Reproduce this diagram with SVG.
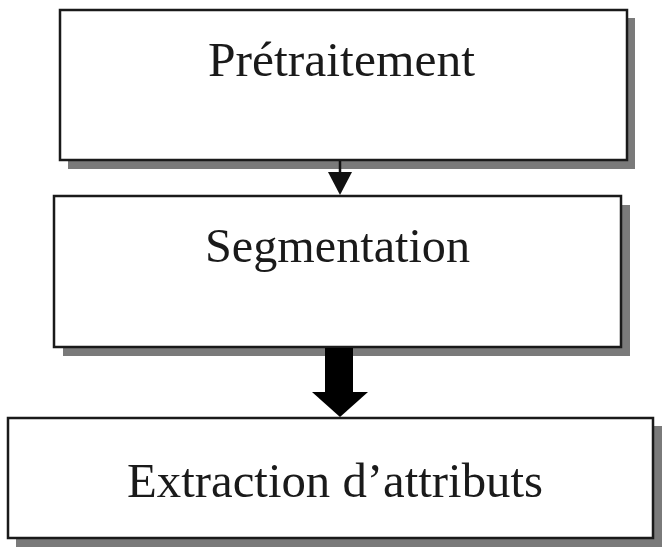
<svg xmlns="http://www.w3.org/2000/svg" width="662" height="547" viewBox="0 0 662 547">
<style>
.shadow{fill:#7a7a7a;}
.box{fill:#fff;stroke:#1a1a1a;stroke-width:2.5;}
.lbl{font-family:"Liberation Serif","Times New Roman",serif;fill:#1a1a1a;}
</style>
<rect width="662" height="547" fill="#fff"/>
<g id="node-pretraitement">
<rect class="shadow" x="68" y="18" width="567" height="151"/>
<rect class="box" x="60" y="10" width="567" height="150"/>
<text class="lbl" x="208" y="76" font-size="48" textLength="267" lengthAdjust="spacingAndGlyphs">Prétraitement</text>
</g>
<g id="node-segmentation">
<rect class="shadow" x="63" y="205" width="567" height="151"/>
<rect class="box" x="54" y="196" width="567" height="151"/>
<text class="lbl" x="205" y="262" font-size="48" textLength="265" lengthAdjust="spacingAndGlyphs">Segmentation</text>
</g>
<g id="node-extraction">
<rect class="shadow" x="16" y="426" width="646" height="121"/>
<rect class="box" x="8" y="418" width="645" height="120"/>
<text class="lbl" x="127" y="497" font-size="48" textLength="416" lengthAdjust="spacingAndGlyphs">Extraction d’attributs</text>
</g>
<g id="connectors">
<line x1="340" y1="161" x2="340" y2="174" stroke="#111" stroke-width="2.5"/>
<polygon points="328,172 352,172 340,195" fill="#111"/>
<rect x="325" y="348" width="28" height="46" fill="#000"/>
<polygon points="312,392 368,392 340,417" fill="#000"/>
</g>
</svg>
